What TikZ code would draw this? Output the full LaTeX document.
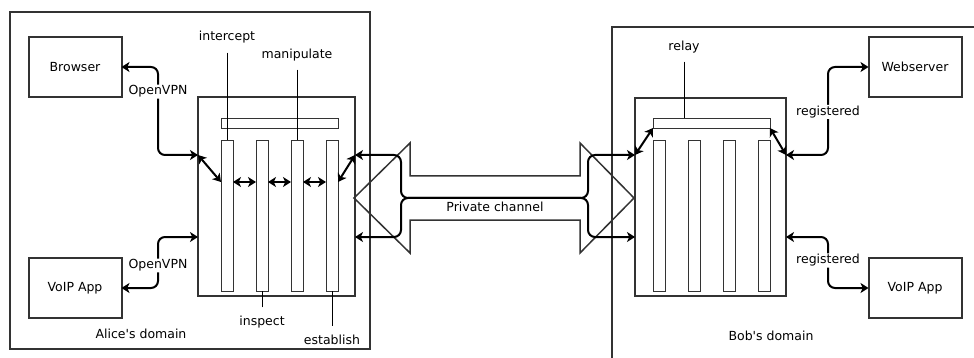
\documentclass[tikz,border=0pt]{standalone}
\usepackage{fontspec}
\setmainfont{DejaVu Sans}
\usetikzlibrary{arrows.meta, positioning}
\definecolor{frame}{HTML}{333333}
\tikzstyle{domainbox} = [rectangle, draw = frame, line width = 2pt,
  inner sep = 0, outer sep = 0]
\tikzstyle{app} = [
  rectangle, minimum width = 93pt, minimum height = 60pt,
  draw = frame, line width = 2pt, inner sep = 0, outer sep = 0,
  text centered
]
\tikzstyle{proxy} = [rectangle, minimum height = 198pt, draw = frame,
  line width = 2pt, inner sep = 0, outer sep = 0]
\tikzstyle{lane} = [rectangle, minimum width = 12pt, minimum height = 151pt,
  draw = frame, line width = 0.9pt, inner sep = 0, outer sep = 0]
\tikzstyle{rail} = [rectangle, minimum width = 117pt, minimum height = 10pt,
  draw = frame, line width = 0.9pt, inner sep = 0, outer sep = 0]
\tikzstyle{link} = [line width = 2pt, rounded corners = 7pt]
\tikzstyle{lbl} = [fill = white, inner sep = 1pt]
\tikzstyle{leader} = [line width = 0.9pt]

\begin{document}
\begin{tikzpicture}[x = 1pt, y = -1pt,
    >={Stealth[length = 8pt, width = 10pt, inset = 2.2pt]},
    font = \fontsize{12.5pt}{14pt}\selectfont]
    \useasboundingbox (0, 0) rectangle (974, 358);

    \node [domainbox, minimum width = 360pt, minimum height = 337pt] (alice) at (190, 180.5) {};
    \node [domainbox, minimum width = 400pt, minimum height = 360pt] (bob) at (812, 207) {};
    \node (alice-name) at (141, 334) {Alice\textquotesingle s domain};
    \node (bob-name) at (771, 336) {Bob\textquotesingle s domain};

    \node [app] (browser) at (75, 67) {Browser};
    \node [app] (voip-a) at (75, 288) {VoIP App};
    \node [app] (webserver) at (915, 67) {Webserver};
    \node [app] (voip-b) at (915, 288) {VoIP App};

    \node [proxy, minimum width = 157pt] (proxy-a) at (276.5, 196.5) {};
    \node [lane] (a-1) at (227, 215.5) {};
    \node [lane, right = 23pt of a-1] (a-2) {};
    \node [lane, right = 23pt of a-2] (a-3) {};
    \node [lane, right = 23pt of a-3] (a-4) {};
    \node [rail, above right = 12pt and 0pt of a-1.north west] (rail-a) {};

    \node [proxy, minimum width = 151pt] (proxy-b) at (710.5, 197) {};
    \node [lane] (b-1) at (659, 215.5) {};
    \node [lane, right = 23pt of b-1] (b-2) {};
    \node [lane, right = 23pt of b-2] (b-3) {};
    \node [lane, right = 23pt of b-3] (b-4) {};
    \node [rail, above right = 12pt and 0pt of b-1.north west] (rail-b) {};

    \node (intercept) at (227, 37) {intercept};
    \node (manipulate) at (297, 55) {manipulate};
    \node (inspect) at (262, 322) {inspect};
    \node (establish) at (332, 340) {establish};
    \node (relay) at (684, 47) {relay};

    \draw [leader, shorten <= 6pt] (intercept.south) -- (a-1.north);
    \draw [leader, shorten <= 5pt] (manipulate.south) -- (a-3.north);
    \draw [leader, shorten <= 5pt] (inspect.north) -- (a-2.south);
    \draw [leader, shorten <= 6pt] (establish.north) -- (a-4.south);
    \draw [leader, shorten <= 5pt] (relay.south) -- (relay.south |- rail-b.north);

    \draw [line width = 1.5pt, draw = frame] (354, 198) -- (410, 143) -- (410, 176)
      -- (580, 176) -- (580, 143) -- (634, 198) -- (580, 253) -- (580, 220)
      -- (410, 220) -- (410, 253) -- cycle;
    \node (channel) at (495, 207) {Private channel};

    \coordinate (hi) at (0, 155);
    \coordinate (mid) at (0, 182);
    \coordinate (lo) at (0, 237);

    \draw [link, <->] (proxy-a.west |- hi) -- ++(-40, 0) |- node [lbl, pos = 0.36] {OpenVPN} (browser.east);
    \draw [link, <->] (proxy-a.west |- lo) -- ++(-40, 0) |- node [lbl, pos = 0.28] {OpenVPN} (voip-a.east);
    \draw [link, <->] (proxy-a.west |- hi) -- (a-1.west |- mid);
    \draw [link, <->] (a-1.east |- mid) -- (a-2.west |- mid);
    \draw [link, <->] (a-2.east |- mid) -- (a-3.west |- mid);
    \draw [link, <->] (a-3.east |- mid) -- (a-4.west |- mid);
    \draw [link, <->] (a-4.east |- mid) -- (proxy-a.east |- hi);

    \draw [link, <->] (proxy-a.east |- hi) -- ++(46, 0) -- ++(0, 43) -- ++(187, 0)
      -- ++(0, -43) -- (proxy-b.west |- hi);
    \draw [link, <->] (proxy-a.east |- lo) -- ++(46, 0) -- ++(0, -39) -- ++(187, 0)
      -- ++(0, 39) -- (proxy-b.west |- lo);

    \draw [link, <->] (proxy-b.west |- hi) -- (rail-b.south west);
    \draw [link, <->] (rail-b.south east) -- (proxy-b.east |- hi);
    \draw [link, <->] (proxy-b.east |- hi) -- ++(42, 0) |- node [lbl, pos = 0.245] {registered} (webserver.west);
    \draw [link, <->] (proxy-b.east |- lo) -- ++(42, 0) |- node [lbl, pos = 0.23] {registered} (voip-b.west);
  \end{tikzpicture}
\end{document}
